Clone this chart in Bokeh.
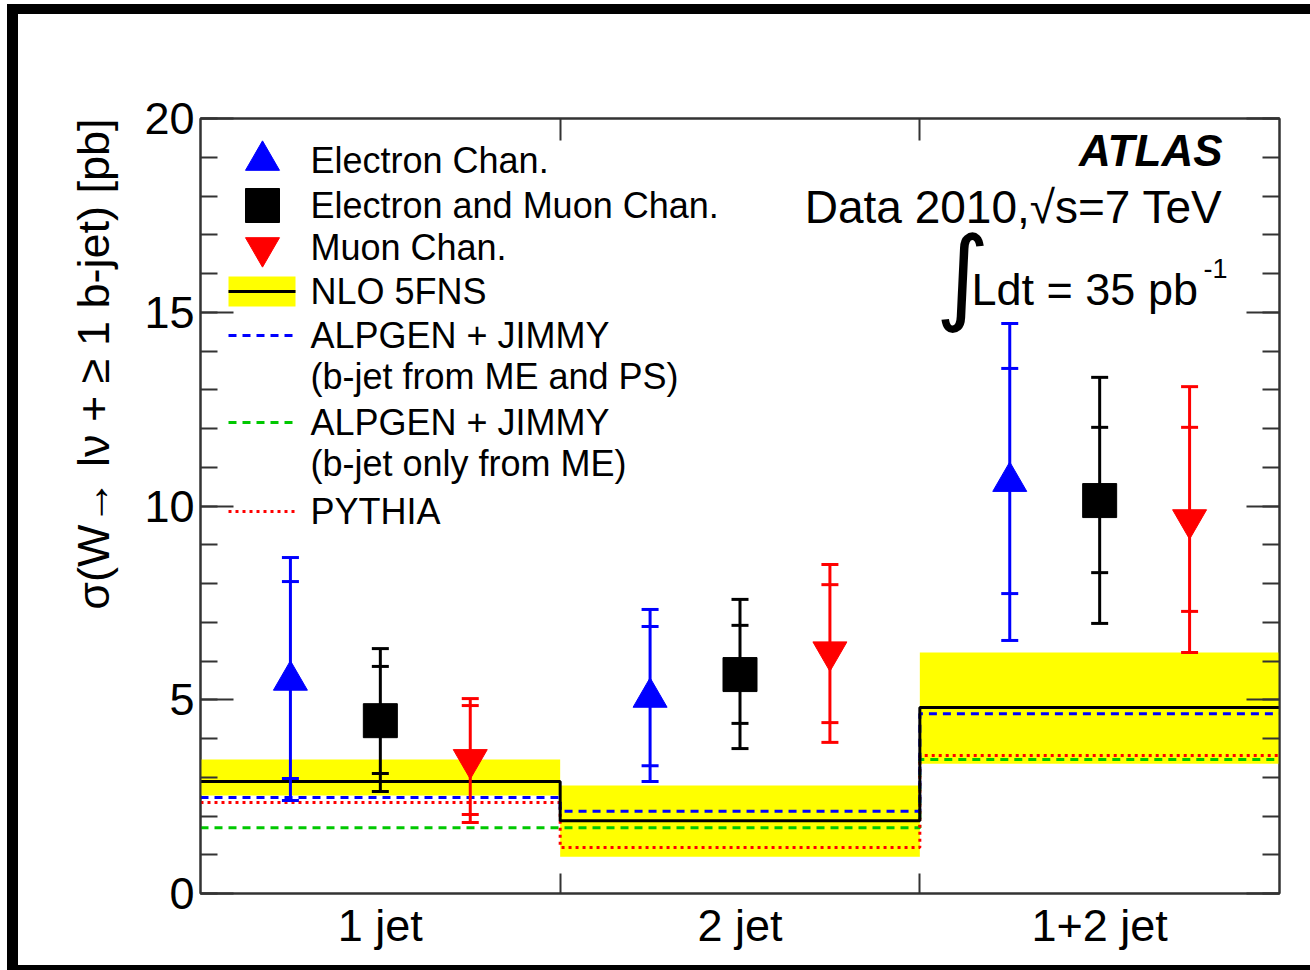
import math
from bokeh.plotting import figure
from bokeh.models import (Range1d, FixedTicker, SingleIntervalTicker, LinearAxis, Label,
                          CustomLabelingPolicy, Title)
from bokeh.embed import file_html
from bokeh.resources import INLINE

FONT = "Liberation Sans"

# ---------------- data ----------------
categories = ["1 jet", "2 jet", "1+2 jet"]

elec_val = [5.50, 5.06, 10.63]
elec_stat_lo = [2.97, 3.30, 7.74]
elec_stat_hi = [8.05, 6.89, 13.55]
elec_tot_lo = [2.40, 2.89, 6.53]
elec_tot_hi = [8.67, 7.33, 14.71]

comb_val = [4.46, 5.65, 10.14]
comb_stat_lo = [3.10, 4.39, 8.28]
comb_stat_hi = [5.86, 6.92, 12.03]
comb_tot_lo = [2.63, 3.74, 6.97]
comb_tot_hi = [6.32, 7.59, 13.32]

muon_val = [3.46, 6.24, 9.65]
muon_stat_lo = [2.04, 4.41, 7.28]
muon_stat_hi = [4.85, 7.97, 12.03]
muon_tot_lo = [1.83, 3.90, 6.22]
muon_tot_hi = [5.03, 8.49, 13.08]

nlo_val = [2.89, 1.88, 4.80]
nlo_lo = [2.53, 0.95, 3.35]
nlo_hi = [3.46, 2.79, 6.22]
alpgen_me_ps = [2.48, 2.12, 4.64]
alpgen_me = [1.70, 1.70, 3.46]
pythia = [2.35, 1.19, 3.56]

y_title = "σ(W→ lν + ≥ 1 b-jet) [pb]"
y_ticks_major = 5
y_max = 20

# ---------------- layout helpers (page pixels -> data) ----------------
FL, FR, FT, FB = 200, 1279, 118, 893
NB = len(categories)


def xd(px):
    return (px - FL) / (FR - FL) * NB


def yd(py):
    return (FB - py) / (FB - FT) * y_max


# canvas origin on the page is (18, 14); black slide frame drawn with CSS shadows
OX, OY = 18, 14
CW, CH = 1310 - OX, 965 - OY
p = figure(width=CW, height=CH,
           x_range=Range1d(0, NB), y_range=Range1d(0, y_max),
           output_backend="svg", toolbar_location=None,
           min_border_left=FL - OX, min_border_right=CW - (FR - OX),
           min_border_top=FT - OY, min_border_bottom=CH - (FB - OY),
           background_fill_color="white", border_fill_color="white")
p.styles = {"margin-top": f"{OY}px", "margin-left": f"{OX}px",
            "box-shadow": ("0 -10px 0 0 black, -11px 0 0 0 black, -11px -10px 0 0 black, "
                           "0 5px 0 0 black, -11px 5px 0 0 black")}
p.xgrid.visible = False
p.ygrid.visible = False
p.outline_line_color = "#333333"
p.outline_line_width = 2

AX_COL = "#333333"
NO_LABELS = "const n = indices.size; for (let i = 0; i < n; i++) { indices.unset(i) } return indices"

# y axes
ya = p.yaxis[0]
ya.ticker = SingleIntervalTicker(interval=y_ticks_major, num_minor_ticks=5)
ya.major_tick_in = 33
ya.major_tick_out = 0
ya.minor_tick_in = 17
ya.minor_tick_out = 0
ya.major_label_text_font = FONT
ya.major_label_text_font_size = "45px"
ya.major_label_text_color = "black"
ya.major_label_standoff = 6
ya.axis_line_color = AX_COL
ya.axis_line_width = 2
ya.major_tick_line_color = AX_COL
ya.minor_tick_line_color = AX_COL
ya.major_tick_line_width = 2
ya.minor_tick_line_width = 2

# ROOT-style y title, right-aligned to the top of the frame
p.add_layout(Title(text=y_title, align="right", text_font=FONT, text_font_size="45px",
                   text_font_style="normal", text_color="black", standoff=46), "left")

yr = LinearAxis(ticker=SingleIntervalTicker(interval=y_ticks_major, num_minor_ticks=5),
                major_tick_in=33, major_tick_out=0, minor_tick_in=17, minor_tick_out=0,
                major_label_text_font_size="0px", axis_line_color=AX_COL, axis_line_width=2,
                major_tick_line_color=AX_COL, minor_tick_line_color=AX_COL,
                major_tick_line_width=2, minor_tick_line_width=2,
                major_label_policy=CustomLabelingPolicy(code=NO_LABELS))
p.add_layout(yr, "right")

# x axes
centers = [i + 0.5 for i in range(NB)]
edges_inner = [i for i in range(1, NB)]
xa = p.xaxis[0]
xa.ticker = FixedTicker(ticks=centers, minor_ticks=edges_inner)
xa.major_label_overrides = {c: lab for c, lab in zip(centers, categories)}
xa.major_tick_in = 0
xa.major_tick_out = 0
xa.minor_tick_in = 20
xa.minor_tick_out = 0
xa.major_label_text_font = FONT
xa.major_label_text_font_size = "45px"
xa.major_label_text_color = "black"
xa.major_label_standoff = 6
xa.axis_line_color = AX_COL
xa.axis_line_width = 2
xa.minor_tick_line_color = AX_COL
xa.minor_tick_line_width = 2

xt = LinearAxis(ticker=FixedTicker(ticks=centers, minor_ticks=edges_inner),
                major_tick_in=0, major_tick_out=0, minor_tick_in=22, minor_tick_out=0,
                major_label_text_font_size="0px", axis_line_color=AX_COL, axis_line_width=2,
                minor_tick_line_color=AX_COL, minor_tick_line_width=2,
                major_label_policy=CustomLabelingPolicy(code=NO_LABELS))
p.add_layout(xt, "above")

# ---------------- theory: NLO band + step lines ----------------
edges = list(range(NB + 1))
p.quad(left=edges[:-1], right=edges[1:], bottom=nlo_lo, top=nlo_hi,
       fill_color="#ffff00", line_color=None)


def stepy(v):
    return list(v) + [v[-1]]


p.step(x=edges, y=stepy(alpgen_me), mode="after", line_color="#00c800", line_width=3, line_dash="8 6")
p.step(x=edges, y=stepy(pythia), mode="after", line_color="#ff0000", line_width=3, line_dash="3 4")
p.step(x=edges, y=stepy(alpgen_me_ps), mode="after", line_color="#0000ff", line_width=3, line_dash="8 6")
p.step(x=edges, y=stepy(nlo_val), mode="after", line_color="black", line_width=3)

# ---------------- data points with two-level error bars ----------------
series = [
    (-0.25, "#0000ff", "triangle", elec_val, elec_stat_lo, elec_stat_hi, elec_tot_lo, elec_tot_hi),
    (0.0, "black", "square", comb_val, comb_stat_lo, comb_stat_hi, comb_tot_lo, comb_tot_hi),
    (0.25, "#ff0000", "inverted_triangle", muon_val, muon_stat_lo, muon_stat_hi, muon_tot_lo, muon_tot_hi),
]
for off, col, mk, v, slo, shi, tlo, thi in series:
    xs = [c + off for c in centers]
    p.segment(x0=xs, y0=tlo, x1=xs, y1=thi, line_color=col, line_width=3)
    capx = xs * 4
    capy = list(tlo) + list(thi) + list(slo) + list(shi)
    p.scatter(x=capx, y=capy, marker="dash", size=17, line_color=col, line_width=3)
    p.scatter(x=xs, y=v, marker=mk, size=34, fill_color=col, line_color=col, line_width=1)

# ---------------- legend (drawn by hand, ROOT style) ----------------
LX_MARK = xd(262)
LX0, LX1 = xd(228), xd(295)
LTX = xd(310)
leg_font = "36px"

p.scatter(x=[LX_MARK], y=[yd(160)], marker="triangle", size=34, fill_color="#0000ff", line_color="#0000ff")
p.scatter(x=[LX_MARK], y=[yd(205)], marker="square", size=34, fill_color="black", line_color="black")
p.scatter(x=[LX_MARK], y=[yd(247)], marker="inverted_triangle", size=34, fill_color="#ff0000", line_color="#ff0000")
p.quad(left=[LX0], right=[LX1], bottom=[yd(306)], top=[yd(276)], fill_color="#ffff00", line_color=None)
p.segment(x0=[LX0], y0=[yd(291)], x1=[LX1], y1=[yd(291)], line_color="black", line_width=3)
p.segment(x0=[LX0], y0=[yd(335)], x1=[LX1], y1=[yd(335)], line_color="#0000ff", line_width=3, line_dash="8 6")
p.segment(x0=[LX0], y0=[yd(422)], x1=[LX1], y1=[yd(422)], line_color="#00c800", line_width=3, line_dash="8 6")
p.segment(x0=[LX0], y0=[yd(511)], x1=[LX1], y1=[yd(511)], line_color="#ff0000", line_width=3, line_dash="3 4")

legend_texts = [
    ("Electron Chan.", 160),
    ("Electron and Muon Chan.", 205),
    ("Muon Chan.", 247),
    ("NLO 5FNS", 291),
    ("ALPGEN + JIMMY", 335),
    ("(b-jet from ME and PS)", 376),
    ("ALPGEN + JIMMY", 422),
    ("(b-jet only from ME)", 463),
    ("PYTHIA", 511),
]
for txt, py in legend_texts:
    p.add_layout(Label(x=LTX, y=yd(py), text=txt, text_font=FONT, text_font_size=leg_font,
                       text_align="left", text_baseline="middle", text_color="black"))

# ---------------- ATLAS annotations ----------------
p.add_layout(Label(x=xd(1222), y=yd(150), text="ATLAS", text_font=FONT, text_font_size="44px",
                   text_font_style="bold italic", text_align="right", text_baseline="middle",
                   text_color="black"))
p.add_layout(Label(x=xd(1222), y=yd(206), text="Data 2010,√s=7 TeV", text_font=FONT,
                   text_font_size="46px", text_align="right", text_baseline="middle",
                   text_color="black"))
p.add_layout(Label(x=xd(962), y=yd(274), text="∫", text_font="DejaVu Sans", text_font_size="104px",
                   text_align="center", text_baseline="middle", text_color="black"))
p.add_layout(Label(x=xd(971), y=yd(289), text="Ldt = 35 pb", text_font=FONT, text_font_size="45px",
                   text_align="left", text_baseline="middle", text_color="black"))
p.add_layout(Label(x=xd(1203), y=yd(268), text="-1", text_font=FONT, text_font_size="27px",
                   text_align="left", text_baseline="middle", text_color="black"))

open("out.html", "w").write(file_html(p, INLINE))
